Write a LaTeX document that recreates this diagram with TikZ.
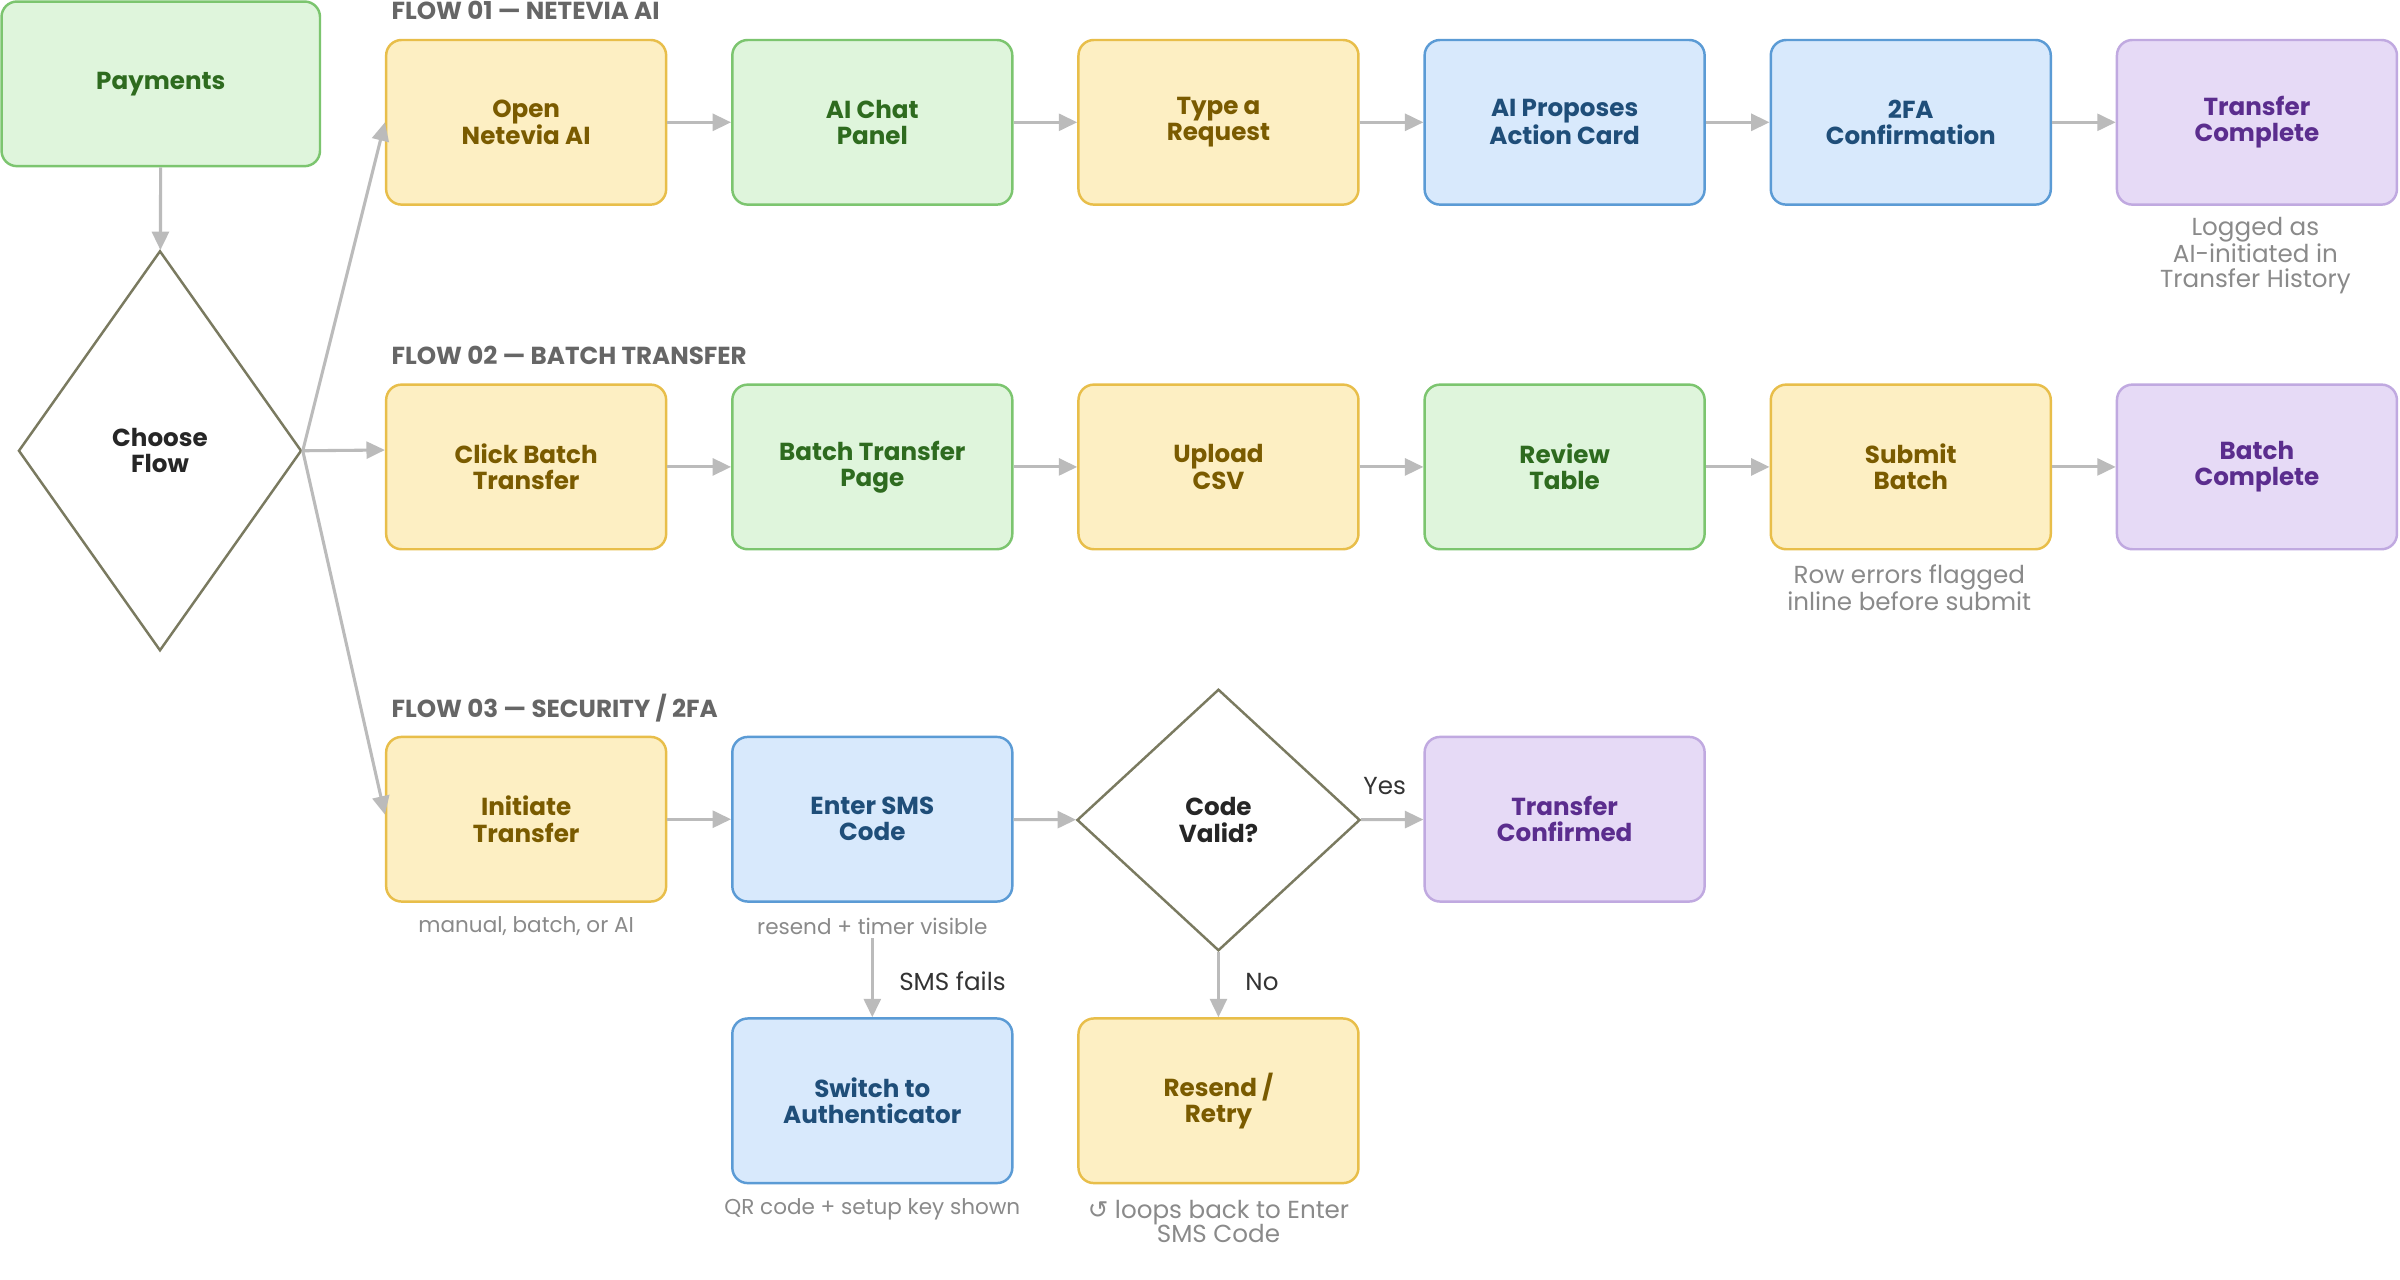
\documentclass[tikz,border=0pt]{standalone}
\usepackage{fontspec}
\setmainfont{Poppins}
\newfontfamily\symf{DejaVu Sans}
\usetikzlibrary{shapes.geometric,arrows.meta}
\definecolor{gF}{HTML}{DFF5DC}\definecolor{gB}{HTML}{7CC56F}\definecolor{gT}{HTML}{2E6B1F}
\definecolor{yF}{HTML}{FDEFC3}\definecolor{yB}{HTML}{E8BE4A}\definecolor{yT}{HTML}{7A5B00}
\definecolor{bF}{HTML}{D8E9FC}\definecolor{bB}{HTML}{5B9BD5}\definecolor{bT}{HTML}{1F4E79}
\definecolor{pF}{HTML}{E6DAF6}\definecolor{pB}{HTML}{C0A9E0}\definecolor{pT}{HTML}{5B2D8E}
\definecolor{dB}{HTML}{7A7A60}\definecolor{ar}{HTML}{BBBBBB}\definecolor{hd}{HTML}{666666}\definecolor{nt}{HTML}{8A8A8A}
\tikzset{
 box/.style={rectangle,rounded corners=10pt,line width=1.6pt,minimum width=182pt,minimum height=107pt,inner sep=0pt,align=center,font=\fontsize{16}{17}\selectfont\bfseries},
 bxg/.style={box,fill=gF,draw=gB,text=gT},
 bxy/.style={box,fill=yF,draw=yB,text=yT},
 bxb/.style={box,fill=bF,draw=bB,text=bT},
 bxp/.style={box,fill=pF,draw=pB,text=pT},
 dia/.style={diamond,draw=dB,fill=white,line width=1.6pt,inner sep=0pt,align=center,text=black!85,font=\fontsize{16}{17}\selectfont\bfseries},
 arr/.style={draw=ar,line width=2pt,-{Triangle[length=12pt,width=11pt]}},
 hdr/.style={anchor=west,text=hd,font=\fontsize{16}{17}\selectfont\bfseries},
 note/.style={align=center,text=nt,font=\fontsize{16}{16}\selectfont},
 snote/.style={align=center,text=nt,font=\fontsize{14}{15}\selectfont},
 lbl/.style={text=black!80,font=\fontsize{16}{17}\selectfont}
}
\begin{document}
\begin{tikzpicture}[x=1pt,y=1pt,yscale=-1]
\fill[white] (0,0) rectangle (1560,832);
\useasboundingbox (0,0) rectangle (1560,832);
\node[bxg] (pay) at (104.5,54.5) [minimum width=207pt] {Payments};
\node[dia,minimum width=184pt,minimum height=260pt] (cf) at (104,293) {Choose\\Flow};
\node[hdr] (h1) at (251,7) {FLOW 01 — NETEVIA AI};
\node[hdr] (h2) at (251,231) {FLOW 02 — BATCH TRANSFER};
\node[hdr] (h3) at (251,460) {FLOW 03 — SECURITY / 2FA};
% row1
\node[bxy] (a1) at (342,79.5) {Open\\Netevia AI};
\node[bxg] (a2) at (567,79.5) {AI Chat\\Panel};
\node[bxy] (a3) at (792,79.5) {Type a\\Request};
\node[bxb] (a4) at (1017,79.5) {AI Proposes\\Action Card};
\node[bxb] (a5) at (1242,79.5) {2FA\\Confirmation};
\node[bxp] (a6) at (1467,79.5) {Transfer\\Complete};
\node[note] (n1) at (1466,166) {Logged as\\AI-initiated in\\Transfer History};
% row2
\node[bxy] (b1) at (342,303.5) {Click Batch\\Transfer};
\node[bxg] (b2) at (567,303.5) {Batch Transfer\\Page};
\node[bxy] (b3) at (792,303.5) {Upload\\CSV};
\node[bxg] (b4) at (1017,303.5) {Review\\Table};
\node[bxy] (b5) at (1242,303.5) {Submit\\Batch};
\node[bxp] (b6) at (1467,303.5) {Batch\\Complete};
\node[note] (n2) at (1241,382) {Row errors flagged\\inline before submit};
% row3
\node[bxy] (c1) at (342,532.5) {Initiate\\Transfer};
\node[bxb] (c2) at (567,532.5) {Enter SMS\\Code};
\node[dia,minimum width=184pt,minimum height=170pt] (cv) at (792,533) {Code\\Valid?};
\node[bxp] (c4) at (1017,532.5) {Transfer\\Confirmed};
\node[snote] (n3) at (342,602) {manual, batch, or AI};
\node[snote] (n4) at (567,602) {resend + timer visible};
\node[bxb] (d1) at (567,715.5) {Switch to\\Authenticator};
\node[bxy] (d2) at (792,715.5) {Resend /\\Retry};
\node[snote] (n5) at (567,786) {QR code + setup key shown};
\node[note] (n6) at (792,794) {{\symf ↺} loops back to Enter\\SMS Code};
\node[lbl,anchor=west] (l1) at (581,638) {SMS fails};
\node[lbl,anchor=west] (l2) at (806,638) {No};
\node[lbl] (l3) at (900,511) {Yes};
\coordinate (sf) at (567,610);
% arrows
\draw[arr] (pay) -- (cf);
\draw[arr] (cf.east) -- (a1.west);
\draw[arr] (cf.east) -- ([yshift=-11pt]b1.west);
\draw[arr] (cf.east) -- ([yshift=-3pt]c1.west);
\foreach \u/\v in {a1/a2,a2/a3,a3/a4,a4/a5,a5/a6,b1/b2,b2/b3,b3/b4,b4/b5,b5/b6,c1/c2,c2/cv,cv/c4}
 \draw[arr] (\u) -- (\v);
\draw[arr] (sf) -- (d1);
\draw[arr] (cv) -- (d2);
\end{tikzpicture}
\end{document}
